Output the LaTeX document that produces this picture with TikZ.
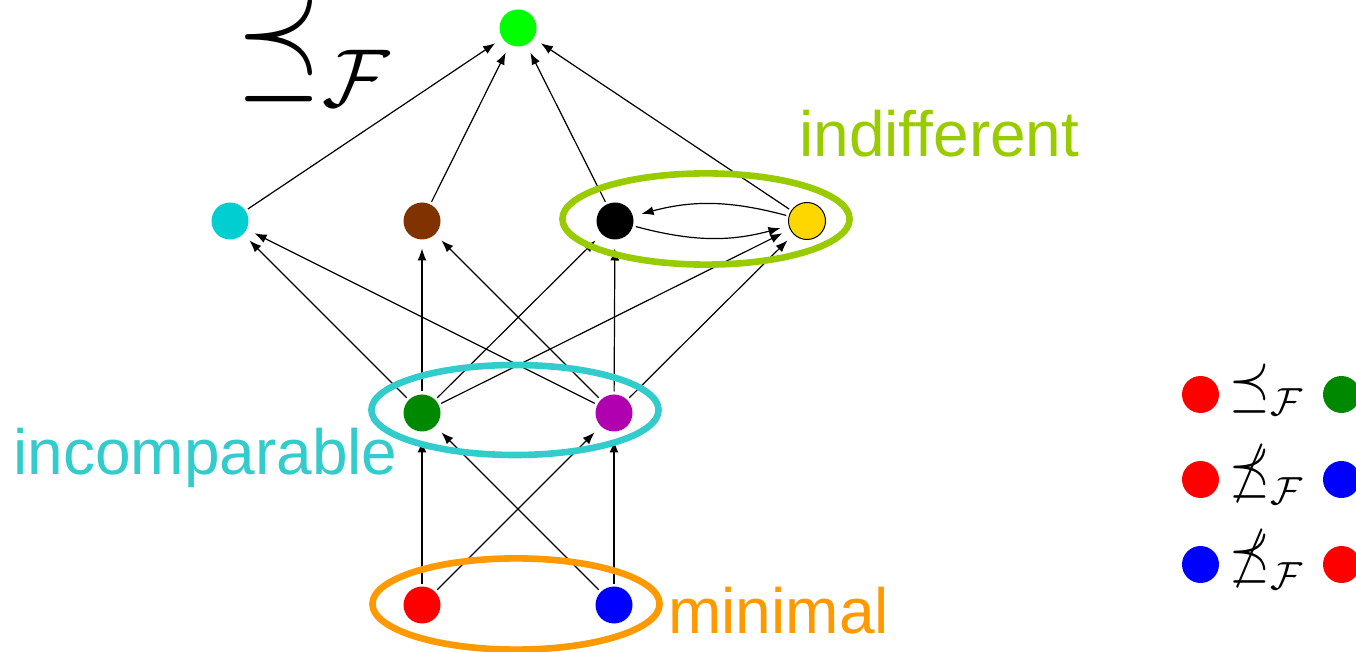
\documentclass[tikz,border=0pt]{standalone}
\usepackage{graphicx}
\usepackage{fontspec}
\setmainfont{Liberation Sans}
\usetikzlibrary{arrows.meta}

\definecolor{topgreen}{RGB}{0,255,0}
\definecolor{cyanish}{RGB}{0,206,209}
\definecolor{brownish}{RGB}{128,51,0}
\definecolor{goldish}{RGB}{255,215,0}
\definecolor{darkgreen}{RGB}{0,136,0}
\definecolor{purplish}{RGB}{176,0,176}
\definecolor{indiff}{RGB}{153,204,0}
\definecolor{incomp}{RGB}{51,204,204}
\definecolor{minim}{RGB}{255,153,0}

\newcommand{\tallrel}[1]{\mathrel{\scalebox{1}[1.22]{$#1$}}}
\newcommand{\calsub}{\scalebox{0.9}{$\scriptstyle\mathcal{F}$}}

\begin{document}
\begin{tikzpicture}[x=0.5pt, y=-0.5pt,
dot/.style={circle, inner sep=0pt, minimum size=18.5pt, outer sep=1.5pt},
edge/.style={->, line width=0.6pt, shorten >=3pt},
group/.style={line width=3.3pt},
tag/.style={anchor=base west, inner sep=0pt, font=\fontsize{32}{38}\selectfont},
rel/.style={anchor=base west, inner sep=0pt, font=\fontsize{24.88}{30}\selectfont},
>={Latex[length=6pt,width=4.5pt]}
]
\useasboundingbox (0,0) rectangle (1356,652);
\clip (0,0) rectangle (1356,652);

% the order
\node[dot, fill=topgreen] (top) at (518,28) {};
\node[dot, fill=cyanish] (cy) at (230,221) {};
\node[dot, fill=brownish] (br) at (422,221) {};
\node[dot, fill=black] (bk) at (615,221) {};
\node[dot, fill=goldish, draw=black, line width=0.5pt] (ye) at (807,221) {};
\node[dot, fill=darkgreen] (gr) at (422,413) {};
\node[dot, fill=purplish] (mg) at (614,413) {};
\node[dot, fill=red] (rd) at (422,605) {};
\node[dot, fill=blue] (bl) at (614,605) {};

\foreach \a in {cy,br,bk,ye}
  \draw[edge] (\a) -- (top);
\foreach \a in {gr,mg}
{\foreach \b in {cy,br,bk,ye}
  \draw[edge] (\a) -- (\b);
}
\foreach \a in {rd,bl}
{\foreach \b in {gr,mg}
  \draw[edge] (\a) -- (\b);
}
\draw[edge] (ye) to[bend right=15] (bk);
\draw[edge] (bk) to[bend right=15] (ye);

% groups
\draw[group, draw=indiff] (706,219) ellipse [x radius=71.8pt, y radius=22.8pt];
\draw[group, draw=incomp] (515,410) ellipse [x radius=71.8pt, y radius=22.5pt];
\draw[group, draw=minim] (516,604) ellipse [x radius=71.8pt, y radius=22.8pt];

\node[tag, text=indiff] (lind) at (799,157) {indifferent};
\node[tag, text=incomp] (linc) at (13,474) {incomparable};
\node[tag, text=minim] (lmin) at (668,633) {minimal};

\node[rel, scale=2.2, transform shape] (title) at (236,84) {$\tallrel{\preceq}_{\calsub}$};

% legend
\foreach \y/\l/\r/\s [count=\i] in {394.5/red/darkgreen/\preceq, 479.5/red/blue/\not\preceq, 564.5/blue/red/\not\preceq}
{
  \node[dot, fill=\l] (ll\i) at (1200.5,\y) {};
  \node[dot, fill=\r] (lr\i) at (1341.5,\y) {};
  \node[rel, scale=1.05, transform shape] (lt\i) at (1229,\y+10) {$\tallrel{\s}_{\calsub}$};
}
\end{tikzpicture}
\end{document}
